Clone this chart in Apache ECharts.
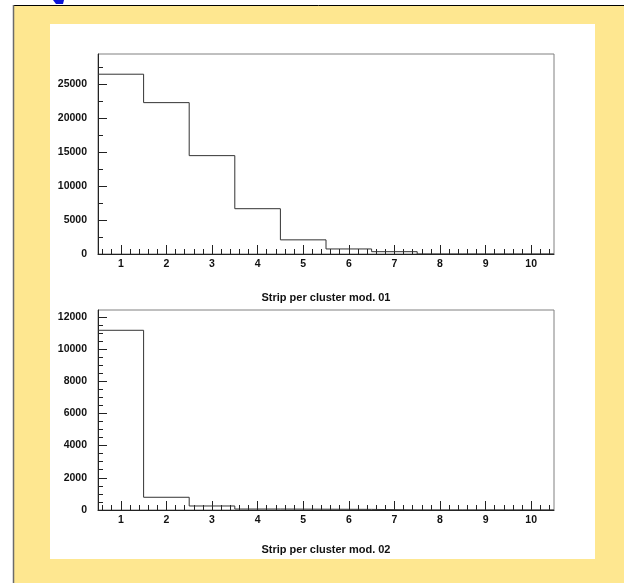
<!DOCTYPE html>
<html>
<head>
<meta charset="utf-8">
<script src="https://cdn.jsdelivr.net/npm/echarts@6/dist/echarts.min.js"></script>
<style>
html,body{margin:0;padding:0;background:#fff;}
#chart{width:624px;height:583px;}
</style>
</head>
<body>
<div id="chart"></div>
<script>
// ---- data ----
const bins = [1, 2, 3, 4, 5, 6, 7, 8, 9, 10];
const mod01 = [26430, 22250, 14460, 6660, 2080, 740, 340, 0, 0, 0];
const mod02 = [11160, 790, 250, 60, 50, 40, 0, 0, 0, 0];
const xTickLabels = [1, 2, 3, 4, 5, 6, 7, 8, 9, 10];
const yTicks01 = [0, 5000, 10000, 15000, 20000, 25000];
const yTicks02 = [0, 2000, 4000, 6000, 8000, 10000, 12000];
const titles = ['Strip per cluster mod. 01', 'Strip per cluster mod. 02'];

// minor tick positions
const xMinor = [];
for (let k = 3; k <= 52; k++) { const v = +(k * 0.2).toFixed(1); if (Math.abs(v - Math.round(v)) > 1e-6) xMinor.push(v); }
const yMinor01 = yTicks01.map(v => v + 2500);
const yMinor02 = [];
for (let v = 500; v < 12400; v += 500) { if (v % 2000 !== 0) yMinor02.push(v); }

function steps(values) {
  const pts = bins.map((b, i) => [b - 0.5, values[i]]);
  pts.push([bins[bins.length - 1] + 0.5, values[values.length - 1]]);
  return pts;
}

const FONT = "'Liberation Sans', Arial, Helvetica, sans-serif";
const labelStyle = { fontFamily: FONT, fontWeight: 'bold', fontSize: 10.5, color: '#111' };

const grids = [
  { left: 98, top: 54, width: 456, height: 200, yMax: 29400, yTicks: yTicks01, yMinor: yMinor01, data: mod01, nameGap: 38 },
  { left: 98, top: 310, width: 456, height: 200, yMax: 12420, yTicks: yTicks02, yMinor: yMinor02, data: mod02, nameGap: 34 }
];

const option = {
  animation: false,
  backgroundColor: '#ffffff',
  graphic: [
    { type: 'rect', z: -10, silent: true, shape: { x: 14, y: 5, width: 610, height: 578 }, style: { fill: '#fee790' } },
    { type: 'line', z: -9, silent: true, shape: { x1: 13, y1: 5.5, x2: 624, y2: 5.5 }, style: { stroke: '#000', lineWidth: 1 } },
    { type: 'line', z: -9, silent: true, shape: { x1: 13.5, y1: 5, x2: 13.5, y2: 583 }, style: { stroke: '#6b6b6b', lineWidth: 1.5 } },
    { type: 'rect', z: -9, silent: true, shape: { x: 50, y: 24, width: 545, height: 535 }, style: { fill: '#ffffff' } },
    { type: 'polygon', z: -8, silent: true, shape: { points: [[53, 0], [64, 0], [63, 4], [56, 4]] }, style: { fill: '#0a14d8' } }
  ],
  grid: grids.map(g => ({ left: g.left, top: g.top, width: g.width, height: g.height, show: true, borderColor: '#808080', borderWidth: 1, backgroundColor: 'transparent' })),
  xAxis: [],
  yAxis: [],
  series: []
};

grids.forEach((g, gi) => {
  option.xAxis.push({
    type: 'value', gridIndex: gi, position: 'bottom', min: 0.5, max: 10.5,
    name: titles[gi], nameLocation: 'middle', nameGap: g.nameGap,
    nameTextStyle: { fontFamily: FONT, fontWeight: 'bold', fontSize: 11, color: '#111' },
    axisLine: { show: true, onZero: false, lineStyle: { color: '#222', width: 1 } },
    axisTick: { show: true, inside: true, length: 9, customValues: xTickLabels, lineStyle: { color: '#222' } },
    axisLabel: Object.assign({ show: true, margin: 5, customValues: xTickLabels, formatter: v => String(v) }, labelStyle),
    splitLine: { show: false }
  });
  option.xAxis.push({
    type: 'value', gridIndex: gi, position: 'bottom', min: 0.5, max: 10.5,
    axisLine: { show: false, onZero: false },
    axisTick: { show: true, inside: true, length: 5, customValues: xMinor, lineStyle: { color: '#222' } },
    axisLabel: { show: false },
    splitLine: { show: false }
  });
  option.yAxis.push({
    type: 'value', gridIndex: gi, position: 'left', min: 0, max: g.yMax,
    axisLine: { show: true, onZero: false, lineStyle: { color: '#222', width: 1 } },
    axisTick: { show: true, inside: true, length: 9, customValues: g.yTicks, lineStyle: { color: '#222' } },
    axisLabel: Object.assign({ show: true, margin: 11, customValues: g.yTicks, formatter: v => String(v) }, labelStyle),
    splitLine: { show: false }
  });
  option.yAxis.push({
    type: 'value', gridIndex: gi, position: 'left', min: 0, max: g.yMax,
    axisLine: { show: false, onZero: false },
    axisTick: { show: true, inside: true, length: 5, customValues: g.yMinor, lineStyle: { color: '#222' } },
    axisLabel: { show: false },
    splitLine: { show: false }
  });
  option.series.push({
    type: 'line', xAxisIndex: gi * 2, yAxisIndex: gi * 2, step: 'end',
    showSymbol: false, symbol: 'none', clip: true,
    lineStyle: { color: '#333', width: 1 },
    data: steps(g.data)
  });
});

const chart = echarts.init(document.getElementById('chart'), null, { renderer: 'canvas' });
chart.setOption(option);
</script>
</body>
</html>
